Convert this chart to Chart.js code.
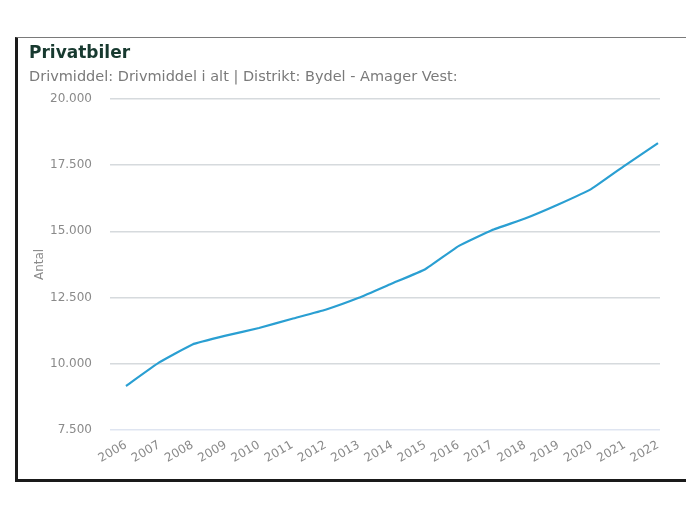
<!DOCTYPE html>
<html>
<head>
<meta charset="utf-8">
<script src="https://cdn.jsdelivr.net/npm/chart.js@4/dist/chart.umd.min.js"></script>
<style>
  body { margin: 0; background: #fff; }
  #frame {
    position: absolute; left: 15px; top: 37px;
    width: 668px; height: 441px;
    border-left: 3px solid #1a1a1a;
    border-bottom: 3px solid #1a1a1a;
    border-top: 1px solid #7a7a7a;
  }
  canvas { display: block; }
</style>
</head>
<body>
<div id="frame"><canvas id="chart" width="668" height="441"></canvas></div>
<script>
// years on the x axis and number of private cars (Amager Vest)
const years = [2006, 2007, 2008, 2009, 2010, 2011, 2012, 2013, 2014, 2015, 2016, 2017, 2018, 2019, 2020, 2021, 2022];
const cars = [9160, 10050, 10730, 11060, 11350, 11700, 12040, 12490, 13030, 13570, 14440, 15040, 15480, 16010, 16600, 17480, 18330];
const yTicks = [7500, 10000, 12500, 15000, 17500, 20000];

const font = 'DejaVu Sans';

function danish(n) { // 20000 -> "20.000"
    return String(n).replace(/\B(?=(\d{3})+(?!\d))/g, '.');
}

const ctx = document.getElementById('chart').getContext('2d');
new Chart(ctx, {
    type: 'line',
    data: {
        datasets: [{
            label: 'Privatbiler',
            data: years.map((y, i) => ({ x: y, y: cars[i] })),
            borderColor: '#2a9fd2',
            borderWidth: 2.2,
            pointRadius: 0,
            tension: 0.1,
            fill: false
        }]
    },
    options: {
        responsive: false,
        animation: false,
        devicePixelRatio: 1,
        layout: { padding: { left: 11, right: 26, top: 0, bottom: 0 } },
        plugins: {
            legend: { display: false },
            tooltip: { enabled: false },
            title: {
                display: true,
                text: 'Privatbiler',
                align: 'start',
                color: '#17392f',
                font: { family: font, size: 17, weight: 'bold', lineHeight: 1.2 },
                padding: { top: 5, bottom: 2 }
            },
            subtitle: {
                display: true,
                text: 'Drivmiddel: Drivmiddel i alt | Distrikt: Bydel - Amager Vest:',
                align: 'start',
                color: '#7a7a7a',
                font: { family: font, size: 14.5, lineHeight: 1.2 },
                padding: { top: 3, bottom: 13 }
            }
        },
        scales: {
            x: {
                type: 'linear',
                min: 2005.52,
                max: 2022.06,
                grid: { display: false, drawTicks: false },
                border: { display: false },
                ticks: {
                    stepSize: 1,
                    includeBounds: false,
                    autoSkip: false,
                    minRotation: 30,
                    maxRotation: 30,
                    padding: 8,
                    color: '#8a8a8a',
                    font: { family: font, size: 12 },
                    callback: v => String(v)
                },
                afterFit: s => { s.height = 49; }
            },
            y: {
                min: 7500,
                max: 20000,
                afterBuildTicks: s => { s.ticks = yTicks.map(v => ({ value: v })); },
                grid: {
                    drawTicks: false,
                    color: c => c.tick.value === 7500 ? '#dfe5f1' : '#d6dadd',
                    lineWidth: 1.5
                },
                border: { display: false },
                ticks: {
                    padding: 18,
                    color: '#8a8a8a',
                    font: { family: font, size: 12 },
                    callback: v => danish(v)
                },
                title: {
                    display: true,
                    text: 'Antal',
                    color: '#8a8a8a',
                    font: { family: font, size: 12 },
                    padding: 4
                },
                afterFit: s => { s.width = 81; }
            }
        }
    }
});
</script>
</body>
</html>
